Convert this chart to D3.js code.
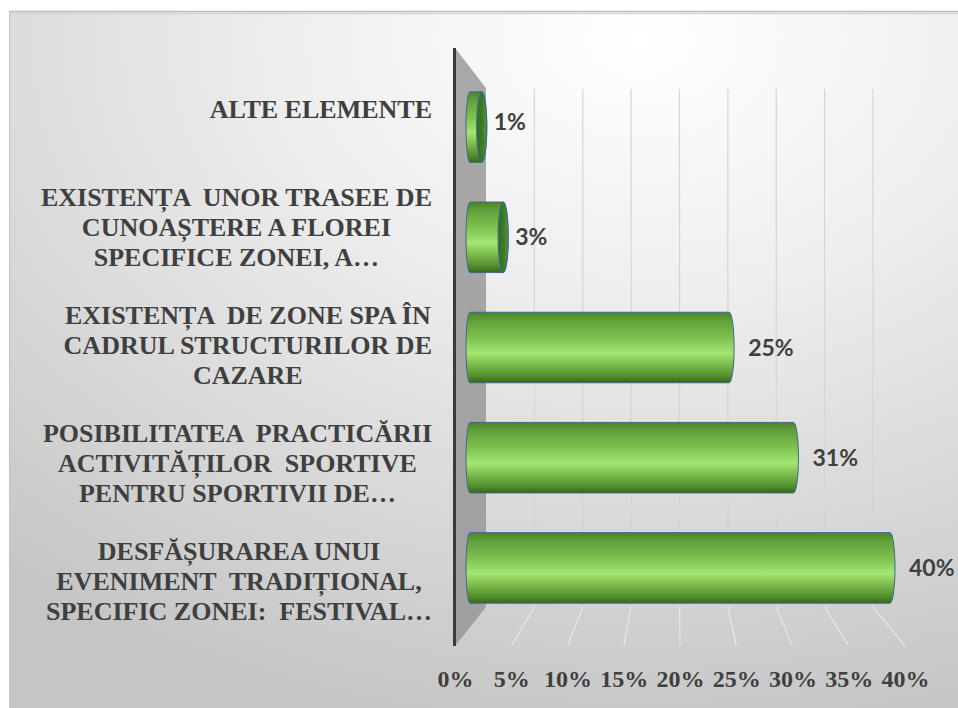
<!DOCTYPE html>
<html><head><meta charset="utf-8">
<script src="https://cdn.jsdelivr.net/npm/d3@7"></script>
<style>
html,body{margin:0;padding:0;background:#fff;}
svg{display:block;}
</style></head><body>
<svg id="chart" width="958" height="708"></svg>
<script>
// ---- data ----
const categories = [
  "ALTE ELEMENTE",
  "EXISTENȚA  UNOR TRASEE DE\nCUNOAȘTERE A FLOREI\nSPECIFICE ZONEI, A…",
  "EXISTENȚA  DE ZONE SPA ÎN\nCADRUL STRUCTURILOR DE\nCAZARE",
  "POSIBILITATEA  PRACTICĂRII\nACTIVITĂȚILOR  SPORTIVE\nPENTRU SPORTIVII DE…",
  "DESFĂȘURAREA UNUI\nEVENIMENT  TRADIȚIONAL,\nSPECIFIC ZONEI:  FESTIVAL…"
];
const values = [1, 3, 25, 31, 40];
const valueLabels = ["1%", "3%", "25%", "31%", "40%"];
const tickValues = [0, 5, 10, 15, 20, 25, 30, 35, 40];
const tickLabels = ["0%", "5%", "10%", "15%", "20%", "25%", "30%", "35%", "40%"];

// ---- setup ----
const svg = d3.select("#chart");
const defs = svg.append("defs");

const bg = defs.append("radialGradient").attr("id", "bg")
  .attr("gradientUnits", "userSpaceOnUse")
  .attr("cx", 640).attr("cy", 40).attr("r", 700)
  .attr("gradientTransform", "translate(640,40) scale(1.4,1) translate(-640,-40)");
bg.append("stop").attr("offset", 0).attr("stop-color", "#ffffff");
bg.append("stop").attr("offset", 0.35).attr("stop-color", "#efefef");
bg.append("stop").attr("offset", 1).attr("stop-color", "#c5c5c5");

const wallG = defs.append("linearGradient").attr("id", "wall")
  .attr("x1", 0).attr("y1", 0).attr("x2", 0).attr("y2", 1);
wallG.append("stop").attr("offset", 0).attr("stop-color", "#a9a9a9");
wallG.append("stop").attr("offset", 1).attr("stop-color", "#9f9f9f");

const barG = defs.append("linearGradient").attr("id", "barg")
  .attr("x1", 0).attr("y1", 0).attr("x2", 0).attr("y2", 1);
[[0, "#4a8427"], [0.12, "#62a03a"], [0.35, "#7dbf4f"], [0.58, "#a4e672"], [0.78, "#72b044"], [0.92, "#4d8a2b"], [1, "#37651c"]]
  .forEach(([o, c]) => barG.append("stop").attr("offset", o).attr("stop-color", c));

const faceG = defs.append("linearGradient").attr("id", "faceg")
  .attr("x1", 0).attr("y1", 0).attr("x2", 1).attr("y2", 0);
faceG.append("stop").attr("offset", 0).attr("stop-color", "#2f6a1e");
faceG.append("stop").attr("offset", 0.6).attr("stop-color", "#3f7d28");
faceG.append("stop").attr("offset", 1).attr("stop-color", "#5b9a3a");

// chart area
svg.append("rect").attr("x", 9).attr("y", 11).attr("width", 960).attr("height", 710)
  .attr("fill", "url(#bg)");
svg.append("line").attr("x1", 9).attr("x2", 958).attr("y1", 11.5).attr("y2", 11.5)
  .attr("stroke", "#bdbdbd").attr("stroke-width", 1.5);
svg.append("line").attr("x1", 9).attr("x2", 958).attr("y1", 13.5).attr("y2", 13.5)
  .attr("stroke", "#d6d6d6").attr("stroke-width", 1.5);
svg.append("line").attr("x1", 9.5).attr("x2", 9.5).attr("y1", 11).attr("y2", 708)
  .attr("stroke", "#c4c4c4").attr("stroke-width", 1);

// scales
const xFront = d3.scaleLinear().domain([0, 40]).range([455, 905]);
const xBack = d3.scaleLinear().domain([0, 40]).range([486, 873]);
const xBar = d3.scaleLinear().domain([0, 40]).range([466, 895]);
const yLabel = d3.scaleBand().domain(categories).range([50, 640]);
const yBar = d3.scaleBand().domain(categories).range([72, 623]).paddingInner(0.36).paddingOuter(0.18);
const backTop = 89, backBot = 607, frontTop = 48, frontBot = 646;
const vanishX = 676;

// side wall
svg.append("polygon")
  .attr("points", [[455, frontTop], [486, backTop - 1], [486, backBot], [455, frontBot]].map(p => p.join(",")).join(" "))
  .attr("fill", "url(#wall)");

// gridlines: back wall + floor
const grid = svg.append("g");
grid.selectAll("path.g").data(tickValues.filter(v => v > 0)).join("path")
  .attr("d", v => `M${xBack(v)},${backTop} L${xBack(v)},${backBot}`)
  .attr("stroke", "#d5d5d5").attr("stroke-width", 1.2).attr("fill", "none");
grid.selectAll("path.f").data(tickValues.filter(v => v > 0)).join("path")
  .attr("d", v => `M${xBack(v)},${backBot} L${xFront(v)},${frontBot}`)
  .attr("stroke", "#e6e6e6").attr("stroke-width", 1.2).attr("fill", "none");

// vertical axis line
svg.append("line").attr("x1", 454.5).attr("x2", 454.5).attr("y1", frontTop).attr("y2", frontBot)
  .attr("stroke", "#3a3a3a").attr("stroke-width", 3);

// bars
const bars = svg.append("g");
const rl = 4;
categories.forEach((c, i) => {
  const v = values[i];
  const y0 = yBar(c), h = yBar.bandwidth(), ry = h / 2;
  const x0 = xBar(0), x1 = xBar(v);
  const showFace = x1 < vanishX;
  const rf = 5;
  const xe = showFace ? x1 + rf : x1 - rf;
  const d = `M${x0 + rl},${y0} L${xe},${y0} A${rf},${ry} 0 0 1 ${xe},${y0 + h} L${x0 + rl},${y0 + h} A${rl},${ry} 0 0 1 ${x0 + rl},${y0} Z`;
  bars.append("path").attr("d", d).attr("fill", "url(#barg)")
    .attr("stroke", "#3e6a8c").attr("stroke-width", 1);
  if (showFace) {
    bars.append("ellipse").attr("cx", xe).attr("cy", y0 + ry).attr("rx", rf).attr("ry", ry)
      .attr("fill", "url(#faceg)").attr("stroke", "#3e6a8c").attr("stroke-width", 1.2);
  }
  const right = xe + rf;
  bars.append("text").attr("x", right + (showFace ? 7 : 14)).attr("y", y0 + ry - (i === 0 ? 5 : 0) + 8)
    .attr("font-family", "Lato, 'Open Sans', sans-serif").attr("font-weight", "bold")
    .attr("font-size", 23).attr("fill", "#404040").text(valueLabels[i]);
});

// category labels
const catG = svg.append("g").attr("font-family", "'Liberation Serif', 'Times New Roman', serif")
  .attr("font-weight", "bold").attr("font-size", 26).attr("fill", "#3f3f3f");
categories.forEach((c, i) => {
  const lines = c.split("\n");
  const t = catG.append("text").attr("text-anchor", "middle").attr("xml:space", "preserve");
  const spans = lines.map((ln, j) => t.append("tspan").text(ln));
  const maxW = d3.max(spans, s => s.node().getComputedTextLength());
  const cx = 432 - maxW / 2;
  const cy = yLabel(c) + yLabel.bandwidth() / 2;
  spans.forEach((s, j) => s.attr("x", cx).attr("y", cy + (j - (lines.length - 1) / 2) * 30 + 8.5));
});

// x axis
const axis = d3.axisBottom(xFront).tickValues(tickValues).tickSize(0).tickPadding(0)
  .tickFormat((d, i) => tickLabels[i]);
const ax = svg.append("g").attr("transform", "translate(0,670)").call(axis);
ax.select(".domain").remove();
ax.selectAll("text").attr("font-family", "'Liberation Serif', 'Times New Roman', serif")
  .attr("font-weight", "bold").attr("font-size", 24).attr("fill", "#3f3f3f");
</script>
</body></html>
